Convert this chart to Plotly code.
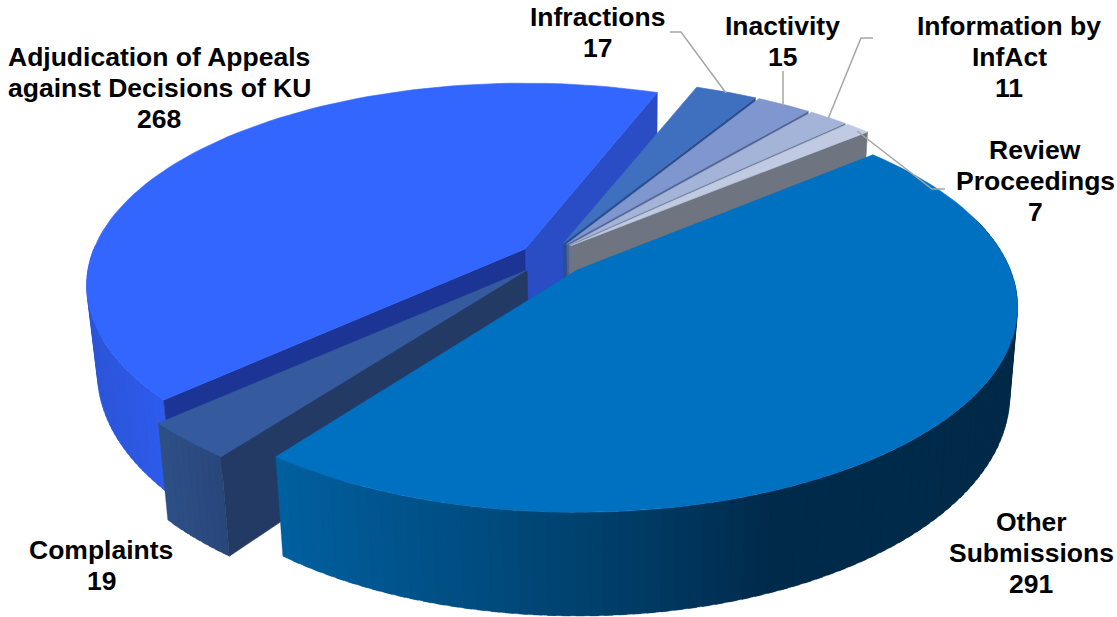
import math
import plotly.graph_objects as go

categories = ["Infractions", "Inactivity", "Information by InfAct", "Review Proceedings",
              "Other Submissions", "Complaints", "Adjudication of Appeals against Decisions of KU"]
values = [17, 15, 11, 7, 291, 19, 268]

label_lines = [["Infractions"], ["Inactivity"], ["Information by", "InfAct"], ["Review", "Proceedings"],
               ["Other", "Submissions"], ["Complaints"], ["Adjudication of Appeals", "against Decisions of KU"]]
label_x = [597, 782, 1009, 1035, 1031, 101, 159]
label_y = [17, 26, 26, 150, 522, 550, 57]
LINE_GAP = 30.8

top_colors = ["#3F6FBF", "#7F96CF", "#A4B3D8", "#C0CAE2", "#0070C0", "#355B9E", "#3366FF"]
face_colors = ["#2A4E8E", "#4F6290", "#6A7590", "#6E7480", "#004F85", "#223A64", "#1C3494"]

# projection of the tilted disc
A, B, K, T = 440.0, 198.7, 0.18, 85.0
START = 21.0
# slice apex on the page, and the small outward pull of the thin slices
apex = [(553, 253), (553, 253), (553, 253), (553, 253), (577, 270), (527, 270), (525, 249)]
pull = [0.055, 0.055, 0.055, 0.055, 0, 0, 0]
scale_x = [1, 1, 1, 1, 0.985, 1, 0.98]
scale_y = [1, 1, 1, 1, 1, 1, 0.985]

total = sum(values)
bounds = [START]
for v in values:
    bounds.append(bounds[-1] + v / total * 360)


def top(i, th, r=1.0):
    mid = math.radians((bounds[i] + bounds[i + 1]) / 2)
    t = math.radians(th)
    u = r * math.sin(t) + pull[i] * math.sin(mid)
    v = r * math.cos(t) + pull[i] * math.cos(mid)
    w = 1 + K * v
    return apex[i][0] + scale_x[i] * A * u / w, apex[i][1] - scale_y[i] * B * v / w, w


def bottom(i, th, r=1.0):
    x, y, w = top(i, th, r)
    return x + 0.02 * (630 - x), y + T / w


def poly(fig, pts, color, lw=0.6):
    xs = [p[0] for p in pts] + [pts[0][0]]
    ys = [p[1] for p in pts] + [pts[0][1]]
    fig.add_trace(go.Scatter(x=xs, y=ys, mode="lines", fill="toself", fillcolor=color,
                             line=dict(color=color, width=lw), hoverinfo="skip", showlegend=False))


def arc(i, a, b, n=80):
    return [a + (b - a) * j / n for j in range(n + 1)]


def top_face(fig, i):
    pts = [top(i, 0, 0)[:2]] + [top(i, t)[:2] for t in arc(i, bounds[i], bounds[i + 1])]
    poly(fig, pts, top_colors[i])


def cut_face(fig, i, th, color):
    poly(fig, [top(i, th, 0)[:2], top(i, th)[:2], bottom(i, th), bottom(i, th, 0)], color)


def lerp_color(stops, x):
    for (x0, c0), (x1, c1) in zip(stops, stops[1:]):
        if x <= x1:
            f = max(0, (x - x0) / (x1 - x0))
            return "rgb(%d,%d,%d)" % tuple(c0[j] + (c1[j] - c0[j]) * f for j in range(3))
    return "rgb(%d,%d,%d)" % stops[-1][1]


def wall(fig, i, a, b, stops, n=48):
    for j in range(n):
        t0, t1 = a + (b - a) * j / n, a + (b - a) * (j + 1) / n
        t2 = a + (b - a) * min(j + 1.6, n) / n  # overlap the next band to hide seams
        col = lerp_color(stops, top(i, (t0 + t1) / 2)[0])
        poly(fig, [top(i, t0)[:2], top(i, t2)[:2], bottom(i, t2), bottom(i, t0)], col, lw=0.3)


fig = go.Figure()

ADJ, CMP, OTH = 6, 5, 4
wall(fig, ADJ, bounds[ADJ + 1] - 360 + 250, bounds[ADJ],
     [(85, (44, 85, 215)), (165, (46, 92, 238))], n=36)
cut_face(fig, ADJ, bounds[ADJ + 1], "#2A4CC4")
cut_face(fig, ADJ, bounds[ADJ], face_colors[ADJ])
top_face(fig, ADJ)

# thin slices, in turn, each covering the cut face of the one before
for i in range(4):
    cut_face(fig, i, bounds[i + 1], face_colors[i])
    top_face(fig, i)

# Complaints slice
wall(fig, CMP, bounds[CMP + 1], bounds[CMP], [(160, (47, 80, 135)), (230, (41, 70, 122))], n=10)
cut_face(fig, CMP, bounds[CMP], face_colors[CMP])
top_face(fig, CMP)

# Other Submissions slice
wall(fig, OTH, bounds[OTH + 1], bounds[OTH] + 25,
     [(277, (0, 96, 160)), (400, (0, 84, 140)), (600, (0, 64, 108)), (700, (0, 52, 90)), (770, (0, 43, 75)),
      (1017, (0, 42, 72))], n=90)
top_face(fig, OTH)

# value labels, one text per line
for lines, v, x, y in zip(label_lines, values, label_x, label_y):
    for j, line in enumerate(lines + [str(v)]):
        fig.add_annotation(x=x, y=y + j * LINE_GAP, text=line, showarrow=False, xanchor="center",
                           yanchor="middle", align="center",
                           font=dict(family="Liberation Sans", size=26.5, color="#000000", weight="bold"))

# leader lines
leaders = [[(670, 32), (681, 32), (726, 93)], [(783, 71), (783, 106)],
           [(873, 38), (861, 38), (828, 119)], [(945, 189), (932, 189), (857, 131)]]
for pts in leaders:
    fig.add_trace(go.Scatter(x=[p[0] for p in pts], y=[p[1] for p in pts], mode="lines",
                             line=dict(color="#A6A6A6", width=1.5), hoverinfo="skip", showlegend=False))

fig.update_layout(width=1117, height=617, margin=dict(l=0, r=0, t=0, b=0), showlegend=False,
                  paper_bgcolor="white", plot_bgcolor="white",
                  xaxis=dict(range=[0, 1117], visible=False, fixedrange=True),
                  yaxis=dict(range=[617, 0], visible=False, fixedrange=True))
fig.write_html("out.html", config={"displayModeBar": False},
               post_script="document.body.style.margin='0';")
